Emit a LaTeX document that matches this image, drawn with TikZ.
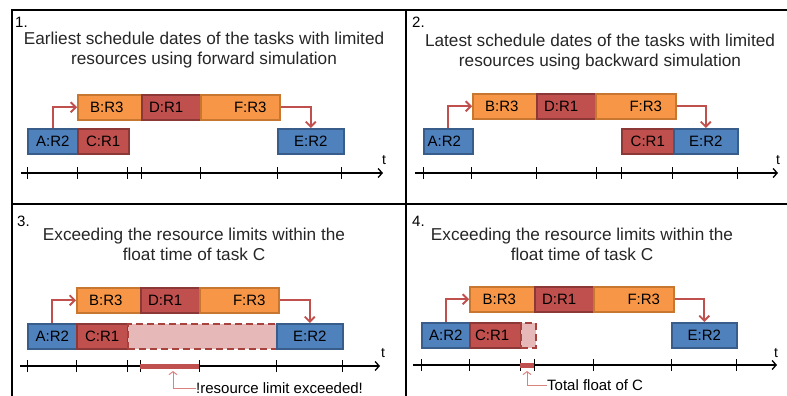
\documentclass[tikz,border=0pt]{standalone}
\usepackage{fontspec}
\setmainfont{Liberation Sans}
\usetikzlibrary{arrows.meta}
\definecolor{blueR}{HTML}{4F81BD}
\definecolor{blueD}{HTML}{385D8A}
\definecolor{orangeR}{HTML}{F79646}
\definecolor{orangeD}{HTML}{C7772F}
\definecolor{redR}{HTML}{C0504D}
\definecolor{redD}{HTML}{8C3836}
\definecolor{pinkR}{HTML}{E6B9B8}
\definecolor{pinkD}{HTML}{A8423F}
\definecolor{calloutR}{HTML}{D9837F}
\definecolor{titleT}{HTML}{262626}

\begin{document}
\begin{tikzpicture}[x=1pt, y=-1pt,
    frame/.style={line width=2pt},
    bar/.style={draw, line width=1.5pt, anchor=north west, minimum height=25, inner sep=0pt,
        font=\fontsize{15}{17}\selectfont},
    res1/.style={bar, fill=redR, draw=redD},
    res2/.style={bar, fill=blueR, draw=blueD},
    res3/.style={bar, fill=orangeR, draw=orangeD},
    floatbox/.style={bar, fill=pinkR, draw=pinkD, line width=2pt, dash pattern=on 7pt off 4pt},
    link/.style={draw=redR, line width=1.8pt, -{Straight Barb[length=5pt,width=10pt]}},
    axis/.style={line width=1.3pt, -{Straight Barb[length=4pt,width=9pt]}},
    tick/.style={line width=0.8pt},
    limit/.style={draw=redR, line width=5pt},
    callout/.style={draw=calloutR, line width=1pt, -{Straight Barb[length=3pt,width=8pt]}},
    title/.style={align=center, text=titleT, font=\fontsize{17.2}{20}\selectfont},
    number/.style={anchor=west, inner sep=0pt, font=\fontsize{15}{17}\selectfont},
    tlabel/.style={inner sep=0pt, font=\fontsize{14}{16}\selectfont},
    note/.style={anchor=west, inner sep=0pt, font=\fontsize{15}{17}\selectfont}]
    \useasboundingbox (0,0) rectangle (787,396);
    \clip (0,0) rectangle (787,396);

    % frame of the four panels
    \draw[frame] (800,10) -- (12,10) -- (12,400);
    \draw[frame] (406,10) -- (406,400);
    \draw[frame] (12,204) -- (800,204);

    % 1. forward simulation
    \node[number] (n1) at (15,22) {1.};
    \node[title] (t1) at (204,50) {Earliest schedule dates of the tasks with limited\\resources using forward simulation};
    \node[res2, minimum width=50] (a1) at (27,128) {A:R2};
    \node[res1, minimum width=51] (c1) at (77,128) {C:R1};
    \node[res3, minimum width=64] (b1) at (77,94) {B:R3\hspace*{6pt}};
    \node[res1, minimum width=59] (d1) at (141,94) {D:R1\hspace*{10pt}};
    \node[res3, minimum width=79] (f1) at (200,94) {\hspace*{20pt}F:R3};
    \node[res2, minimum width=66] (e1) at (277,128) {E:R2};
    \draw[link] (a1.north) |- (b1.west);
    \draw[link] (f1.east) -| (e1.north);
    \draw[axis] (21,173) -- (383,173);
    \draw[tick] (27,167) -- (27,179) (77,167) -- (77,179) (127,167) -- (127,179) (141,167) -- (141,179)
        (200,167) -- (200,179) (277,167) -- (277,179) (341,167) -- (341,179);
    \node[tlabel] (x1) at (384,160) {t};

    % 2. backward simulation
    \node[number] (n2) at (412,22) {2.};
    \node[title] (t2) at (600,52) {Latest schedule dates of the tasks with limited\\resources using backward simulation};
    \node[res2, minimum width=49] (a2) at (423,128) {A:R2\hspace*{8pt}};
    \node[res3, minimum width=64] (b2) at (472,93) {B:R3\hspace*{6pt}};
    \node[res1, minimum width=59] (d2) at (536,93) {D:R1\hspace*{10pt}};
    \node[res3, minimum width=80] (f2) at (595,93) {\hspace*{20pt}F:R3};
    \node[res1, minimum width=52] (c2) at (621,128) {C:R1};
    \node[res2, minimum width=64] (e2) at (673,128) {E:R2};
    \draw[link] (a2.north) |- (b2.west);
    \draw[link] (f2.east) -| (e2.north);
    \draw[axis] (415,173) -- (778,173);
    \draw[tick] (423,167) -- (423,179) (471,167) -- (471,179) (536,167) -- (536,179) (596,167) -- (596,179)
        (621,167) -- (621,179) (672,167) -- (672,179) (737,167) -- (737,179);
    \node[tlabel] (x2) at (778,160) {t};

    % 3. float time of C exceeded
    \node[number] (n3) at (17,221) {3.};
    \node[title] (t3) at (194,244) {Exceeding the resource limits within the\\float time of task C};
    \node[res3, minimum width=64] (b3) at (76,287) {B:R3\hspace*{6pt}};
    \node[res1, minimum width=59] (d3) at (140,287) {D:R1\hspace*{10pt}};
    \node[res3, minimum width=79] (f3) at (199,287) {\hspace*{20pt}F:R3};
    \node[res2, minimum width=49] (a3) at (27,323) {A:R2};
    \node[res1, minimum width=51] (c3) at (76,323) {C:R1};
    \node[floatbox, minimum width=149] (g3) at (127,323) {};
    \node[res2, minimum width=66] (e3) at (276,323) {E:R2};
    \draw[link] (a3.north) |- (b3.west);
    \draw[link] (f3.east) -| (e3.north);
    \draw[axis] (20,366) -- (380,366);
    \draw[tick] (27,360) -- (27,372) (76,360) -- (76,372) (127,360) -- (127,372) (140,360) -- (140,372)
        (199,360) -- (199,372) (276,360) -- (276,372) (342,360) -- (342,372);
    \draw[limit] (140,366) -- (199,366);
    \node[tlabel] (x3) at (383,353) {t};
    \coordinate (lim3) at (173,371);
    \node[note] (exc3) at (196,388) {!resource limit exceeded!};
    \draw[callout] (exc3.west) -| (lim3);

    % 4. total float of C
    \node[number] (n4) at (412,221) {4.};
    \node[title] (t4) at (582,244) {Exceeding the resource limits within the\\float time of task C};
    \node[res3, minimum width=65] (b4) at (469,286) {B:R3\hspace*{6pt}};
    \node[res1, minimum width=59] (d4) at (534,286) {D:R1\hspace*{10pt}};
    \node[res3, minimum width=80] (f4) at (593,286) {\hspace*{20pt}F:R3};
    \node[res2, minimum width=48] (a4) at (421,322) {A:R2};
    \node[res1, minimum width=51] (c4) at (469,322) {C:R1\hspace*{6pt}};
    \node[floatbox, minimum width=15] (g4) at (520,322) {};
    \node[res2, minimum width=65] (e4) at (671,322) {E:R2};
    \draw[link] (a4.north) |- (b4.west);
    \draw[link] (f4.east) -| (e4.north);
    \draw[axis] (413,365) -- (777,365);
    \draw[tick] (421,359) -- (421,371) (469,359) -- (469,371) (520,359) -- (520,371) (534,359) -- (534,371)
        (593,359) -- (593,371) (671,359) -- (671,371) (736,359) -- (736,371);
    \draw[limit] (520,365) -- (534,365);
    \node[tlabel] (x4) at (776,353) {t};
    \coordinate (flt4) at (527,371);
    \node[note] (tot4) at (547,385) {Total float of C};
    \draw[callout] (tot4.west) -| (flt4);
\end{tikzpicture}
\end{document}
